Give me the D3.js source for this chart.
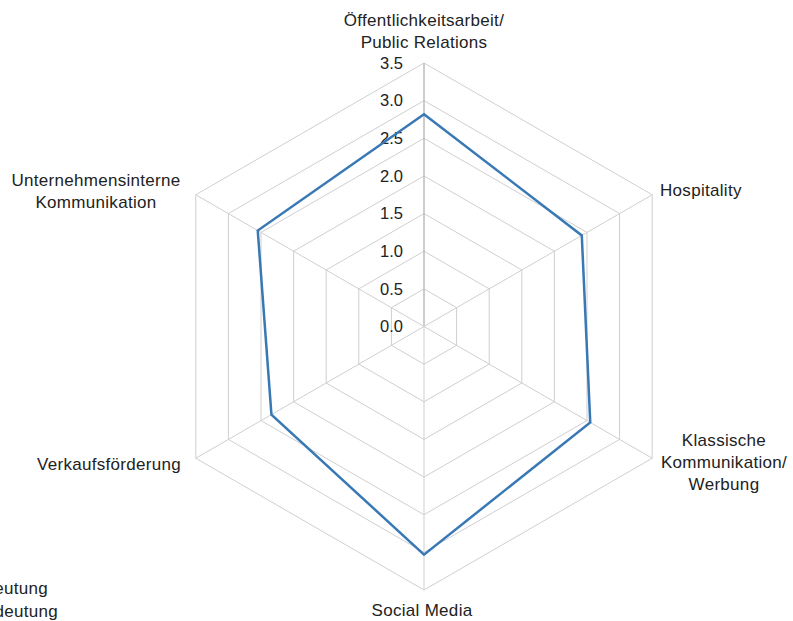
<!DOCTYPE html>
<html><head><meta charset="utf-8">
<script src="https://cdn.jsdelivr.net/npm/d3@7"></script>
<style>body{margin:0;background:#fff}svg{display:block}text{font-family:"Liberation Sans",Arial,sans-serif;fill:#222}</style>
</head><body><svg width="793" height="621"></svg>
<script>
const categories = ["Öffentlichkeitsarbeit/\nPublic Relations","Hospitality","Klassische\nKommunikation/\nWerbung","Social Media","Verkaufsförderung","Unternehmensinterne\nKommunikation"];
const values = [2.82, 2.42, 2.55, 3.03, 2.34, 2.55];
const ticks = [0, 0.5, 1.0, 1.5, 2.0, 2.5, 3.0, 3.5];
const legendLabels = ["Heutige Bedeutung","Zukünftige Bedeutung"];

const svg = d3.select("svg");
const cx = 424, cy = 326.5, R = 263.5;
const r = d3.scaleLinear().domain([0, 3.5]).range([0, R]);
const n = categories.length;
const ang = i => -Math.PI/2 + i*2*Math.PI/n;
const pt = (i, v) => [cx + r(v)*Math.cos(ang(i)), cy + r(v)*Math.sin(ang(i))];

const g = svg.append("g");
ticks.slice(1).forEach(t => {
  g.append("polygon").attr("points", d3.range(n).map(i => pt(i, t).join(",")).join(" "))
   .attr("fill","none").attr("stroke","#cfcfcf").attr("stroke-width",1);
});
d3.range(n).forEach(i => {
  const [x,y] = pt(i, 3.5);
  g.append("line").attr("x1",cx).attr("y1",cy).attr("x2",x).attr("y2",y)
   .attr("stroke", i===0 ? "#bdbdbd" : "#cfcfcf").attr("stroke-width", i===0 ? 1.5 : 1);
});
ticks.forEach(t => {
  g.append("text").attr("x", cx-21).attr("y", cy - r(t)).attr("dy","0.35em")
   .attr("text-anchor","end").attr("font-size",16.5).text(d3.format(".1f")(t));
});
const line = d3.line().curve(d3.curveLinearClosed);
g.append("path").attr("d", line(values.map((v,i) => pt(i, v))))
  .attr("fill","none").attr("stroke","#3878b5").attr("stroke-width",2.5).attr("stroke-linejoin","miter");

const labelPos = [
  {x:424, y:20, a:"middle"},
  {x:660, y:190, a:"start"},
  {x:724, y:440, a:"middle"},
  {x:422, y:610, a:"middle"},
  {x:181, y:464, a:"end"},
  {x:96, y:180, a:"middle"}
];
categories.forEach((c,i) => {
  const p = labelPos[i];
  const t = g.append("text").attr("x",p.x).attr("y",p.y).attr("text-anchor",p.a)
    .attr("font-size",17).attr("letter-spacing",0.3);
  c.split("\n").forEach((s,k) => t.append("tspan").attr("x",p.x).attr("dy", k===0 ? "0.35em" : "1.3em").text(s));
});
legendLabels.forEach((s,k) => {
  g.append("text").attr("x", k===0 ? 48 : 58).attr("y", 588 + k*23).attr("dy","0.35em")
   .attr("text-anchor","end").attr("font-size",17).attr("letter-spacing",0.3).text(s);
});
</script></body></html>
